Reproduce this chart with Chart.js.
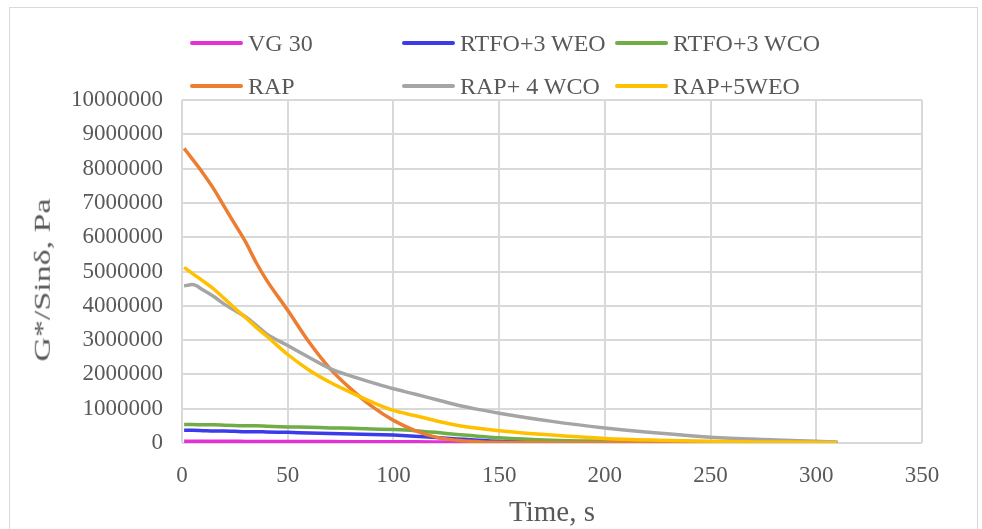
<!DOCTYPE html>
<html>
<head>
<meta charset="utf-8">
<script src="https://cdn.jsdelivr.net/npm/chart.js@4/dist/chart.umd.min.js"></script>
<style>
  html, body { margin: 0; padding: 0; background: #fff; }
  #wrap { position: relative; width: 982px; height: 529px; overflow: hidden; }
  #frame { position: absolute; left: 9px; top: 7px; width: 969px; height: 540px; border: 1px solid #d9d9d9; box-sizing: border-box; }
  #chart { position: absolute; left: 0; top: 0; }
  .leg { position: absolute; font-family: "Liberation Serif", "Times New Roman", serif; font-size: 24px; color: #595959; white-space: nowrap; line-height: 24px; }
  .leg i { display: inline-block; width: 53px; height: 4px; border-radius: 2px; vertical-align: middle; margin-right: 5px; position: relative; top: -2px; }
  #ytitle { position: absolute; left: 42px; top: 280px; font-family: "Liberation Serif", "Times New Roman", serif; font-size: 29px; color: #595959; white-space: nowrap; line-height: 29px;
            transform: translate(-50%, -50%) rotate(-90deg) scale(1.17, 0.8); }
</style>
</head>
<body>
<div id="wrap">
  <div id="frame"></div>
  <canvas id="chart" width="982" height="529"></canvas>
  <div id="legend"></div>
  <div id="ytitle">G*/Sinδ, Pa</div>
</div>
<script>
// time axis (s)
const times = [1, 5, 10, 15, 20, 25, 30, 35, 40, 50, 60, 70, 80, 90, 100, 110, 120, 130, 140, 150, 175, 200, 225, 250, 275, 300, 310];

// G*/Sin delta values (Pa)
const vg30 = [50000, 50000, 49000, 49000, 48000, 48000, 47000, 47000, 46000, 45000, 43000, 41000, 39000, 37000, 35000, 33000, 31000, 29000, 27000, 25000, 20000, 15000, 12000, 10000, 7000, 5000, 5000];
const rtfoWeo = [370000, 370000, 360000, 350000, 350000, 340000, 330000, 330000, 320000, 310000, 290000, 280000, 260000, 250000, 230000, 200000, 160000, 120000, 80000, 50000, 20000, 10000, 5000, 5000, 4000, 3000, 3000];
const rtfoWco = [540000, 540000, 530000, 530000, 520000, 510000, 500000, 500000, 490000, 470000, 460000, 440000, 430000, 410000, 390000, 360000, 310000, 250000, 200000, 150000, 80000, 50000, 30000, 20000, 15000, 10000, 10000];
const rap = [8590000, 8270000, 7860000, 7410000, 6890000, 6380000, 5870000, 5270000, 4750000, 3870000, 2950000, 2170000, 1570000, 1060000, 660000, 370000, 170000, 80000, 40000, 20000, 10000, 5000, 5000, 5000, 5000, 5000, 5000];
const rapWco = [4580000, 4620000, 4460000, 4270000, 4050000, 3860000, 3680000, 3440000, 3180000, 2840000, 2500000, 2170000, 1950000, 1760000, 1580000, 1430000, 1270000, 1110000, 980000, 870000, 630000, 440000, 290000, 170000, 100000, 50000, 30000];
const rapWeo = [5120000, 4940000, 4720000, 4490000, 4210000, 3930000, 3660000, 3380000, 3120000, 2580000, 2130000, 1770000, 1470000, 1190000, 950000, 800000, 650000, 520000, 430000, 360000, 230000, 130000, 80000, 50000, 30000, 20000, 10000];

const names = ['VG 30', 'RTFO+3 WEO', 'RTFO+3 WCO', 'RAP', 'RAP+ 4 WCO', 'RAP+5WEO'];
const colors = ['#E62FD9', '#3B3BEA', '#70AD47', '#ED7D31', '#A5A5A5', '#FFC000'];
const series = [vg30, rtfoWeo, rtfoWco, rap, rapWco, rapWeo];

const xTicks = [0, 50, 100, 150, 200, 250, 300, 350];

const fontFamily = '"Liberation Serif", "Times New Roman", serif';
const textColor = '#595959';
const gridColor = '#d9d9d9';

const datasets = series.map((vals, i) => ({
    label: names[i],
    data: vals.map((v, k) => ({ x: times[k], y: v })),
    borderColor: colors[i],
    backgroundColor: colors[i],
    borderWidth: 3.5,
    pointRadius: 0,
    cubicInterpolationMode: 'monotone',
    order: series.length - i,   // later series on top, like the original
    fill: false
}));

// legend, laid out in a 3 column grid
const legendPos = [[190, 31], [402, 31], [615, 31], [190, 74], [402, 74], [615, 74]];
const legend = document.getElementById('legend');
names.forEach((n, i) => {
    const d = document.createElement('div');
    d.className = 'leg';
    d.style.left = legendPos[i][0] + 'px';
    d.style.top = legendPos[i][1] + 'px';
    d.innerHTML = '<i style="background:' + colors[i] + '"></i>' + n;
    legend.appendChild(d);
});

new Chart(document.getElementById('chart'), {
    type: 'line',
    data: { datasets: datasets },
    options: {
        responsive: false,
        animation: false,
        layout: { padding: { left: 8, right: 60, top: 100, bottom: 0 } },
        plugins: {
            legend: { display: false },
            tooltip: { enabled: false }
        },
        scales: {
            x: {
                type: 'linear',
                min: 0,
                max: 350,
                afterBuildTicks: (s) => { s.ticks = xTicks.map(v => ({ value: v })); },
                afterFit: (s) => { s.height = 86; },
                grid: { color: gridColor, lineWidth: 2, drawTicks: false },
                border: { display: false },
                ticks: { color: textColor, padding: 19, font: { family: fontFamily, size: 23 } },
                title: {
                    display: true,
                    text: 'Time, s',
                    color: textColor,
                    padding: { top: 0, bottom: 0 },
                    font: { family: fontFamily, size: 29, lineHeight: 1.1 }
                }
            },
            y: {
                min: 0,
                max: 10000000,
                afterFit: (s) => { s.width = 174; },
                grid: { color: gridColor, lineWidth: 2, drawTicks: false },
                border: { display: false },
                ticks: {
                    stepSize: 1000000,
                    color: textColor,
                    padding: 19,
                    font: { family: fontFamily, size: 23 },
                    callback: (v) => String(v)
                }
            }
        }
    }
});
</script>
</body>
</html>
